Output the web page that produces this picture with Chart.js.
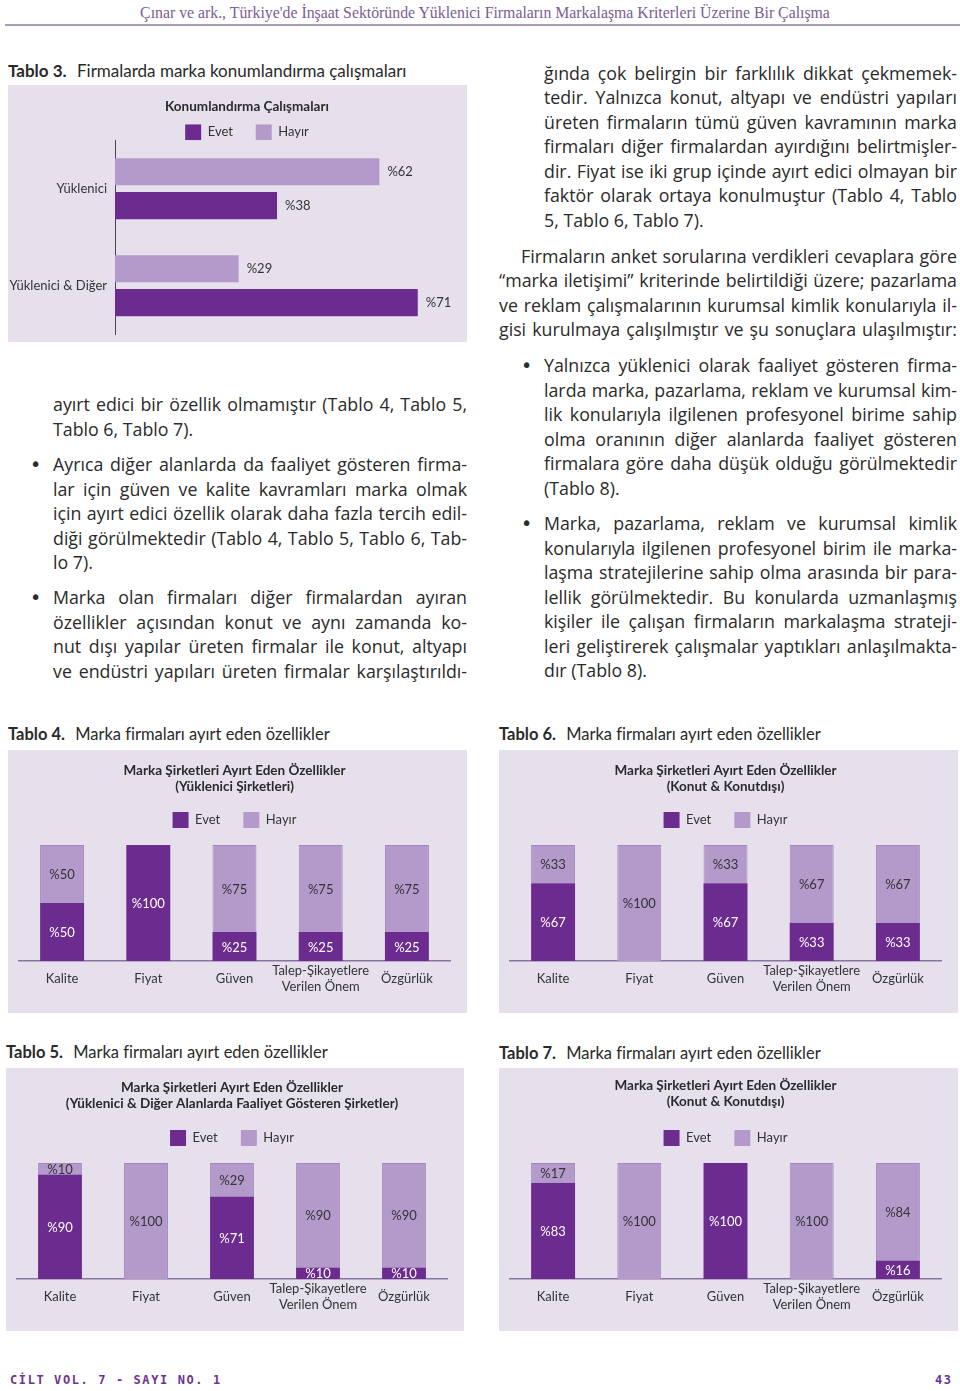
<!DOCTYPE html>
<html lang="tr">
<head>
<meta charset="utf-8">
<title>Tablo 3-7</title>
<script src="https://cdn.jsdelivr.net/npm/chart.js@4.4.1/dist/chart.umd.min.js"></script>
<style>
  body { margin: 0; width: 960px; height: 1391px; position: relative; overflow: hidden; background: #fff; font-family: "Open Sans", sans-serif; color: #2a2a2a; }
  .hdr { position: absolute; left: 0; top: 4px; width: 970px; text-align: center; font-family: "Liberation Serif", serif; font-size: 15.8px; color: #7d5c93; white-space: nowrap; }
  .hdr-line { position: absolute; left: 5px; top: 24px; width: 955px; height: 2px; background: #a99cb4; }
  .ln { position: absolute; height: 24px; line-height: 24px; font-size: 17.8px; white-space: nowrap; text-align: justify; text-align-last: justify; }
  .ln.end { text-align-last: left; }
  .dot { position: absolute; font-family: "DejaVu Sans", sans-serif; font-size: 19px; line-height: 24px; }
  .cap { position: absolute; font-family: Lato, sans-serif; font-size: 16.5px; line-height: 20px; white-space: nowrap; }
  .cap b { margin-right: 6px; }
  .panel { position: absolute; background: #e6e0ed; }
  canvas { position: absolute; }
  canvas.bg { background: #e6e0ed; }
  .foot { position: absolute; top: 1373px; font-family: "DejaVu Sans Mono", monospace; font-weight: bold; font-size: 12px; letter-spacing: 1.6px; color: #6e3391; }
</style>
</head>
<body>

<div class="hdr">Çınar ve ark., Türkiye'de İnşaat Sektöründe Yüklenici Firmaların Markalaşma Kriterleri Üzerine Bir Çalışma</div>
<div class="hdr-line"></div>

<div class="cap" style="left:8px;top:61px;font-size:17px"><b>Tablo 3.</b> Firmalarda marka konumlandırma çalışmaları</div>
<div class="panel" style="left:8px;top:85px;width:459px;height:257px"></div>
<canvas id="tablo3" width="478" height="257" style="left:8px;top:85px"></canvas>

<!-- left column text -->
<div class="ln" style="left:53px;top:392px;width:414px">ayırt edici bir özellik olmamıştır (Tablo 4, Tablo 5,</div>
<div class="ln end" style="left:53px;top:417px;width:414px">Tablo 6, Tablo 7).</div>

<div class="dot" style="left:30px;top:452px">•</div>
<div class="ln" style="left:53px;top:452px;width:414px">Ayrıca diğer alanlarda da faaliyet gösteren firma-</div>
<div class="ln" style="left:53px;top:477px;width:414px">lar için güven ve kalite kavramları marka olmak</div>
<div class="ln" style="left:53px;top:501px;width:414px">için ayırt edici özellik olarak daha fazla tercih edil-</div>
<div class="ln" style="left:53px;top:526px;width:414px">diği görülmektedir (Tablo 4, Tablo 5, Tablo 6, Tab-</div>
<div class="ln end" style="left:53px;top:550px;width:414px">lo 7).</div>

<div class="dot" style="left:30px;top:585px">•</div>
<div class="ln" style="left:53px;top:585px;width:414px">Marka olan firmaları diğer firmalardan ayıran</div>
<div class="ln" style="left:53px;top:610px;width:414px">özellikler açısından konut ve aynı zamanda ko-</div>
<div class="ln" style="left:53px;top:634px;width:414px">nut dışı yapılar üreten firmalar ile konut, altyapı</div>
<div class="ln" style="left:53px;top:659px;width:414px">ve endüstri yapıları üreten firmalar karşılaştırıldı-</div>

<!-- right column text -->
<div class="ln" style="left:544px;top:61px;width:413px">ğında çok belirgin bir farklılık dikkat çekmemek-</div>
<div class="ln" style="left:544px;top:85px;width:413px">tedir. Yalnızca konut, altyapı ve endüstri yapıları</div>
<div class="ln" style="left:544px;top:110px;width:413px">üreten firmaların tümü güven kavramının marka</div>
<div class="ln" style="left:544px;top:134px;width:413px">firmaları diğer firmalardan ayırdığını belirtmişler-</div>
<div class="ln" style="left:544px;top:159px;width:413px">dir. Fiyat ise iki grup içinde ayırt edici olmayan bir</div>
<div class="ln" style="left:544px;top:183px;width:413px">faktör olarak ortaya konulmuştur (Tablo 4, Tablo</div>
<div class="ln end" style="left:544px;top:208px;width:413px">5, Tablo 6, Tablo 7).</div>

<div class="ln" style="left:521px;top:244px;width:436px">Firmaların anket sorularına verdikleri cevaplara göre</div>
<div class="ln" style="left:499px;top:268px;width:458px">“marka iletişimi” kriterinde belirtildiği üzere; pazarlama</div>
<div class="ln" style="left:499px;top:293px;width:458px">ve reklam çalışmalarının kurumsal kimlik konularıyla il-</div>
<div class="ln" style="left:499px;top:317px;width:458px">gisi kurulmaya çalışılmıştır ve şu sonuçlara ulaşılmıştır:</div>

<div class="dot" style="left:521px;top:353px">•</div>
<div class="ln" style="left:544px;top:353px;width:413px">Yalnızca yüklenici olarak faaliyet gösteren firma-</div>
<div class="ln" style="left:544px;top:378px;width:413px">larda marka, pazarlama, reklam ve kurumsal kim-</div>
<div class="ln" style="left:544px;top:402px;width:413px">lik konularıyla ilgilenen profesyonel birime sahip</div>
<div class="ln" style="left:544px;top:427px;width:413px">olma oranının diğer alanlarda faaliyet gösteren</div>
<div class="ln" style="left:544px;top:451px;width:413px">firmalara göre daha düşük olduğu görülmektedir</div>
<div class="ln end" style="left:544px;top:476px;width:413px">(Tablo 8).</div>

<div class="dot" style="left:521px;top:511px">•</div>
<div class="ln" style="left:544px;top:511px;width:413px">Marka, pazarlama, reklam ve kurumsal kimlik</div>
<div class="ln" style="left:544px;top:536px;width:413px">konularıyla ilgilenen profesyonel birim ile marka-</div>
<div class="ln" style="left:544px;top:560px;width:413px">laşma stratejilerine sahip olma arasında bir para-</div>
<div class="ln" style="left:544px;top:585px;width:413px">lellik görülmektedir. Bu konularda uzmanlaşmış</div>
<div class="ln" style="left:544px;top:609px;width:413px">kişiler ile çalışan firmaların markalaşma strateji-</div>
<div class="ln" style="left:544px;top:634px;width:413px">leri geliştirerek çalışmalar yaptıkları anlaşılmakta-</div>
<div class="ln end" style="left:544px;top:658px;width:413px">dır (Tablo 8).</div>

<div class="cap" style="left:8px;top:724px"><b>Tablo 4.</b> Marka firmaları ayırt eden özellikler</div>
<canvas class="bg" id="tablo4" width="459" height="263" style="left:8px;top:750px"></canvas>

<div class="cap" style="left:499px;top:724px"><b>Tablo 6.</b> Marka firmaları ayırt eden özellikler</div>
<canvas class="bg" id="tablo6" width="459" height="263" style="left:499px;top:750px"></canvas>

<div class="cap" style="left:6px;top:1042px"><b>Tablo 5.</b> Marka firmaları ayırt eden özellikler</div>
<canvas class="bg" id="tablo5" width="458" height="263" style="left:6px;top:1068px"></canvas>

<div class="cap" style="left:499px;top:1043px"><b>Tablo 7.</b> Marka firmaları ayırt eden özellikler</div>
<canvas class="bg" id="tablo7" width="459" height="263" style="left:499px;top:1068px"></canvas>

<div class="foot" style="left:10px">CİLT VOL. 7 - SAYI NO. 1</div>
<div class="foot" style="left:935px">43</div>

<script>
// --- data ---
const seriesNames = ['Evet', 'Hayır'];

const tablo3Categories = ['Yüklenici', 'Yüklenici & Diğer'];
const tablo3Evet = [38, 71];
const tablo3Hayir = [62, 29];

const features = ['Kalite', 'Fiyat', 'Güven', ['Talep-Şikayetlere', 'Verilen Önem'], 'Özgürlük'];

const tablo4Evet = [50, 100, 25, 25, 25];
const tablo4Hayir = [50, 0, 75, 75, 75];

const tablo5Evet = [90, 0, 71, 10, 10];
const tablo5Hayir = [10, 100, 29, 90, 90];

const tablo6Evet = [67, 0, 67, 33, 33];
const tablo6Hayir = [33, 100, 33, 67, 67];

const tablo7Evet = [83, 0, 100, 0, 16];
const tablo7Hayir = [17, 100, 0, 100, 84];

// --- styles ---
const DARK = '#6c2b8f';
const LIGHT = '#b49aca';
const LIGHT_EDGE = '#a388bb';
const TEXT = '#333333';

Chart.defaults.font.family = 'Lato, sans-serif';
Chart.defaults.color = TEXT;

// legend: Evet then Hayır, extra room after the first item
function legendLabels(reverse, gap) {
    return function (chart) {
        let items = Chart.defaults.plugins.legend.labels.generateLabels(chart);
        if (reverse) items.reverse();
        items.forEach((it, i) => {
            it.lineWidth = 0;
            if (i < items.length - 1) it.text += gap;
        });
        return items;
    };
}

// percentage labels on the bars
const valueLabels = {
    id: 'valueLabels',
    afterDatasetsDraw(chart, args, opts) {
        const ctx = chart.ctx;
        ctx.save();
        ctx.font = '13px Lato, sans-serif';
        ctx.textBaseline = 'middle';
        chart.data.datasets.forEach((ds, i) => {
            const meta = chart.getDatasetMeta(i);
            meta.data.forEach((bar, j) => {
                const v = ds.data[j];
                if (!v) return;
                if (opts.outside) {
                    ctx.textAlign = 'left';
                    ctx.fillStyle = TEXT;
                    ctx.fillText('%' + v, bar.x + 8, bar.y);
                } else {
                    const p = bar.getCenterPoint();
                    ctx.textAlign = 'center';
                    ctx.fillStyle = ds.labelColor;
                    ctx.fillText('%' + v, p.x, p.y + 1);
                }
            });
        });
        ctx.restore();
    }
};

new Chart(document.getElementById('tablo3'), {
    type: 'bar',
    data: {
        labels: tablo3Categories,
        datasets: [
            { label: seriesNames[1], data: tablo3Hayir, backgroundColor: LIGHT },
            { label: seriesNames[0], data: tablo3Evet, backgroundColor: DARK }
        ]
    },
    options: {
        indexAxis: 'y',
        responsive: false,
        animation: false,
        categoryPercentage: 0.7,
        barPercentage: 0.8,
        layout: { padding: { left: 0, right: 0, top: 0, bottom: 5 } },
        scales: {
            x: { display: false, min: 0, max: 87 },
            y: {
                grid: { display: false },
                border: { display: true, color: '#4f4259', width: 1 },
                ticks: { padding: 0, color: TEXT, font: { size: 13 } },
                afterFit(scale) { scale.width = 107; }
            }
        },
        plugins: {
            title: {
                display: true,
                text: 'Konumlandırma Çalışmaları',
                color: '#2a2a2a',
                font: { size: 13.5, weight: 'bold' },
                padding: { top: 14, bottom: 9 }
            },
            legend: {
                maxHeight: 16,
                labels: { boxWidth: 16, boxHeight: 16, padding: 0, color: TEXT, font: { size: 13 }, generateLabels: legendLabels(true, '\u2003\u2003 ') }
            },
            tooltip: { enabled: false },
            valueLabels: { outside: true }
        }
    },
    plugins: [valueLabels]
});

function stackedChart(id, titleLines, evet, hayir, titlePad) {
    return new Chart(document.getElementById(id), {
        type: 'bar',
        data: {
            labels: features,
            datasets: [
                { label: seriesNames[0], data: evet, backgroundColor: DARK, labelColor: '#ffffff' },
                { label: seriesNames[1], data: hayir, backgroundColor: LIGHT, borderColor: LIGHT_EDGE, borderWidth: 1, labelColor: TEXT }
            ]
        },
        options: {
            responsive: false,
            animation: false,
            barPercentage: 0.51,
            categoryPercentage: 1,
            layout: { padding: { left: 11, right: 17, top: 0, bottom: 0 } },
            scales: {
                x: {
                    stacked: true,
                    grid: { display: false },
                    border: { display: true, color: '#8a74a0', width: 1.5 },
                    ticks: { padding: 2, color: TEXT, font: { size: 13, lineHeight: '16px' }, crossAlign: 'center', maxRotation: 0, autoSkip: false },
                    afterFit(scale) { scale.height = 52; }
                },
                y: { stacked: true, display: false, min: 0, max: 106 }
            },
            plugins: {
                title: {
                    display: true,
                    text: titleLines,
                    color: '#2a2a2a',
                    font: { size: 13.5, weight: 'bold', lineHeight: '16px' },
                    padding: { top: titlePad[0], bottom: titlePad[1] }
                },
                legend: {
                    labels: { boxWidth: 16, boxHeight: 16, padding: 10, color: TEXT, font: { size: 13 }, generateLabels: legendLabels(false, '\u2003 ') }
                },
                tooltip: { enabled: false },
                valueLabels: { outside: false }
            }
        },
        plugins: [valueLabels]
    });
}

stackedChart('tablo4', ['Marka Şirketleri Ayırt Eden Özellikler', '(Yüklenici Şirketleri)'], tablo4Evet, tablo4Hayir, [13, 7]);
stackedChart('tablo6', ['Marka Şirketleri Ayırt Eden Özellikler', '(Konut & Konutdışı)'], tablo6Evet, tablo6Hayir, [13, 7]);
stackedChart('tablo5', ['Marka Şirketleri Ayırt Eden Özellikler', '(Yüklenici & Diğer Alanlarda Faaliyet Gösteren Şirketler)'], tablo5Evet, tablo5Hayir, [12, 8]);
stackedChart('tablo7', ['Marka Şirketleri Ayırt Eden Özellikler', '(Konut & Konutdışı)'], tablo7Evet, tablo7Hayir, [10, 10]);
</script>
</body>
</html>
